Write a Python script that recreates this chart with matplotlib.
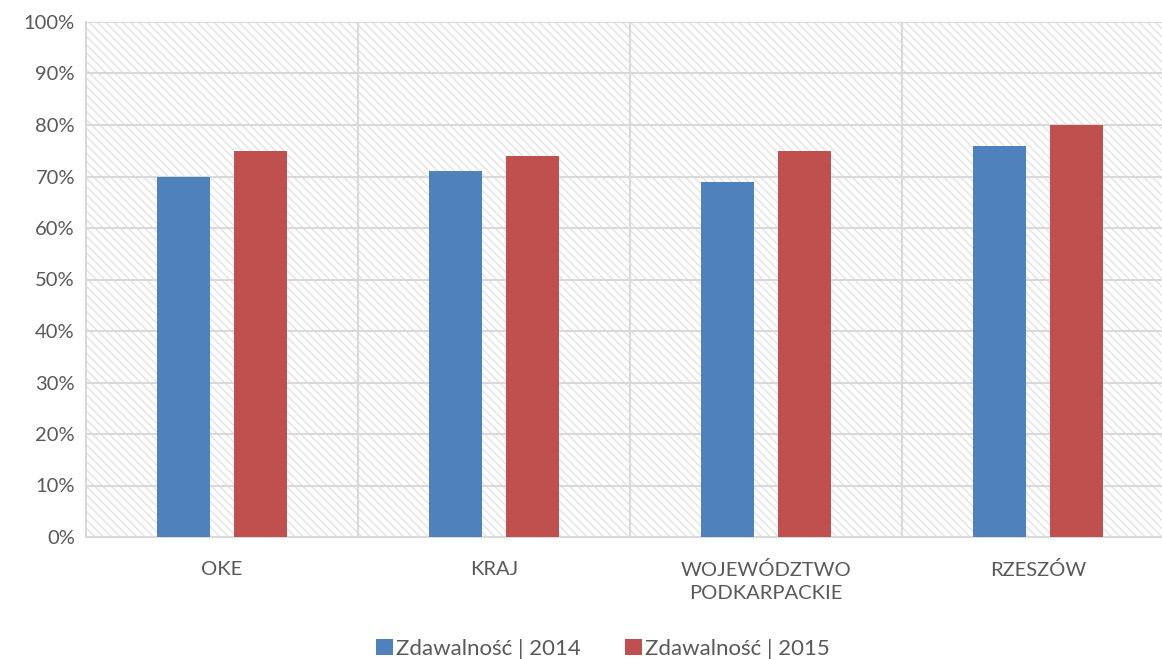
import matplotlib
matplotlib.use("Agg")
from matplotlib import pyplot as plt
from matplotlib.patches import Rectangle
from matplotlib.ticker import FuncFormatter, MultipleLocator
import numpy as np

categories = ["OKE", "KRAJ", "WOJEWÓDZTWO\nPODKARPACKIE", "RZESZÓW"]
values_2014 = [70, 71, 69, 76]
values_2015 = [75, 74, 75, 80]
series_labels = ["Zdawalność | 2014", "Zdawalność | 2015"]

plt.rcParams["font.family"] = ["Lato", "DejaVu Sans"]
plt.rcParams["hatch.linewidth"] = 1.0

fig = plt.figure(figsize=(11.62, 6.59), dpi=100)
ax = fig.add_axes([86 / 1162, 1 - 537 / 659, 1088 / 1162, 515 / 659])

x = np.arange(len(categories))
width = 0.195
offset = 0.14

# hatched background like Excel's plot area fill
ax.add_patch(Rectangle((-0.5, 0), len(categories), 100, facecolor="white",
                       edgecolor="#e3e3e3", hatch="\\\\\\\\", linewidth=0, zorder=0))

ax.bar(x - offset, values_2014, width, color="#4f81bd", label=series_labels[0], zorder=3)
ax.bar(x + offset, values_2015, width, color="#c0504d", label=series_labels[1], zorder=3)

ax.set_xlim(-0.5, len(categories) - 0.5)
ax.set_ylim(0, 100)
ax.yaxis.set_major_locator(MultipleLocator(10))
ax.yaxis.set_major_formatter(FuncFormatter(lambda v, p: f"{int(v)}%"))

for yv in range(10, 101, 10):
    ax.axhline(yv, color="#d9d9d9", linewidth=1.5, zorder=1)
for xv in np.arange(0.5, len(categories) - 0.5, 1):
    ax.axvline(xv, color="#d9d9d9", linewidth=1.5, zorder=1)

ax.set_xticks(x)
ax.set_xticklabels(categories, linespacing=1.45)
ax.tick_params(axis="both", length=0, colors="#595959", labelsize=14.5)
ax.tick_params(axis="x", pad=17)
ax.tick_params(axis="y", pad=8)

for side in ["top", "right"]:
    ax.spines[side].set_visible(False)
ax.spines["left"].set_color("#d9d9d9")
ax.spines["left"].set_linewidth(1.5)
ax.spines["bottom"].set_color("#d9d9d9")
ax.spines["bottom"].set_linewidth(1.5)

fig.legend(loc="center", bbox_to_anchor=(603 / 1162, 1 - 649 / 659), ncol=2,
           frameon=False, fontsize=16, labelcolor="#595959",
           handlelength=0.75, handleheight=0.75, handletextpad=0.15, columnspacing=2.0)

fig.savefig("out.png", dpi=100)
